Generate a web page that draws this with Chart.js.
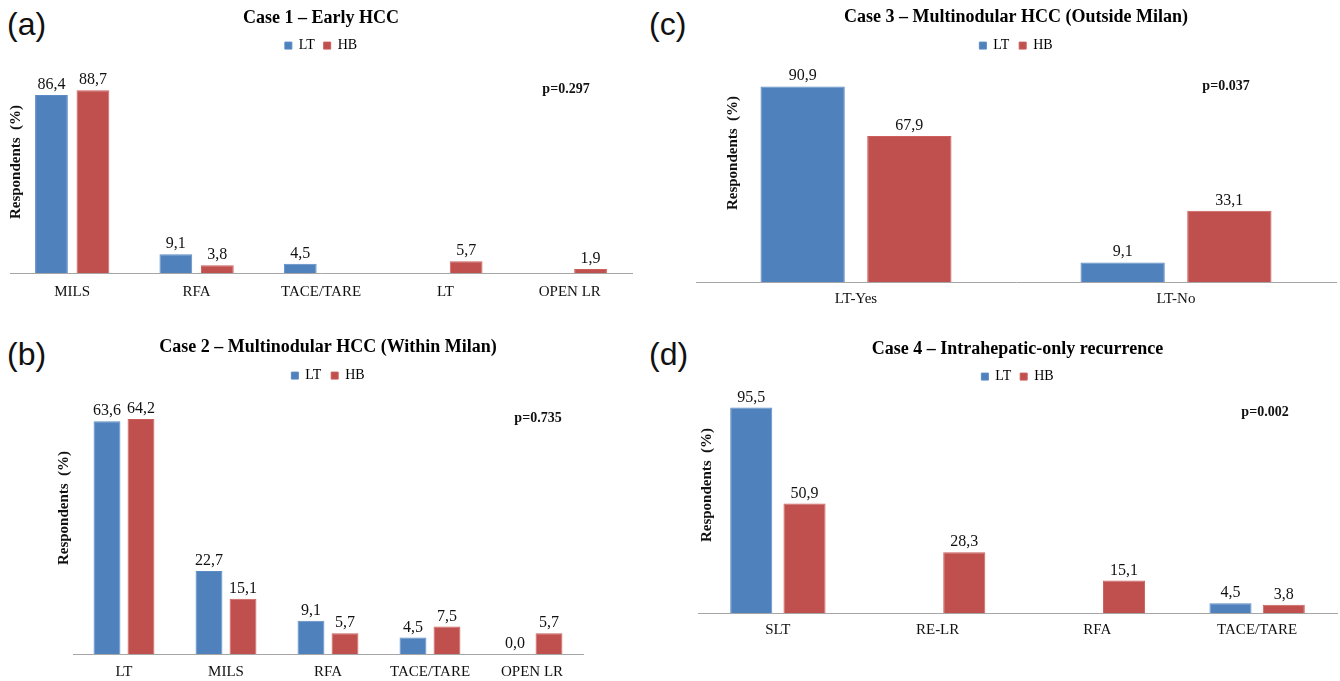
<!DOCTYPE html>
<html>
<head>
<meta charset="utf-8">
<script src="https://cdn.jsdelivr.net/npm/chart.js@4.4.1/dist/chart.umd.min.js"></script>
<style>
  body { margin: 0; background: #fff; width: 1340px; height: 681px; position: relative; overflow: hidden; }
  canvas { position: absolute; }
  .tag { position: absolute; font-family: "Liberation Sans", Arial, sans-serif; font-size: 32px; line-height: 32px; color: #111; }
</style>
</head>
<body>
<div class="tag" style="left:7px;top:8px">(a)</div>
<div class="tag" style="left:7px;top:338px">(b)</div>
<div class="tag" style="left:649px;top:8px">(c)</div>
<div class="tag" style="left:649px;top:338px">(d)</div>

<canvas id="chartA" width="670" height="330" style="left:0;top:0"></canvas>
<canvas id="chartB" width="670" height="360" style="left:0;top:330px"></canvas>
<canvas id="chartC" width="670" height="330" style="left:670px;top:0"></canvas>
<canvas id="chartD" width="670" height="351" style="left:670px;top:330px"></canvas>

<script>
// data
const seriesNames = ['LT', 'HB'];

const aTitle = 'Case 1 \u2013 Early HCC';
const aLabels = ['MILS', 'RFA', 'TACE/TARE', 'LT', 'OPEN LR'];
const aLT = [86.4, 9.1, 4.5, null, null];
const aHB = [88.7, 3.8, null, 5.7, 1.9];
const aP = 'p=0.297';

const bTitle = 'Case 2 \u2013 Multinodular HCC (Within Milan)';
const bLabels = ['LT', 'MILS', 'RFA', 'TACE/TARE', 'OPEN LR'];
const bLT = [63.6, 22.7, 9.1, 4.5, 0.0];
const bHB = [64.2, 15.1, 5.7, 7.5, 5.7];
const bP = 'p=0.735';

const cTitle = 'Case 3 \u2013 Multinodular HCC (Outside Milan)';
const cLabels = ['LT-Yes', 'LT-No'];
const cLT = [90.9, 9.1];
const cHB = [67.9, 33.1];
const cP = 'p=0.037';

const dTitle = 'Case 4 \u2013 Intrahepatic-only recurrence';
const dLabels = ['SLT', 'RE-LR', 'RFA', 'TACE/TARE'];
const dLT = [95.5, null, null, 4.5];
const dHB = [50.9, 28.3, 15.1, 3.8];
const dP = 'p=0.002';

const yTitle = 'Respondents  (%)';

Chart.defaults.font.family = "'Liberation Serif', 'Times New Roman', serif";
Chart.defaults.color = '#000';

// value above each bar, comma decimal
const valueLabels = {
  id: 'valueLabels',
  afterDatasetsDraw(chart) {
    const ctx = chart.ctx;
    ctx.save();
    ctx.font = "16px 'Liberation Serif'";
    ctx.fillStyle = '#111';
    ctx.textAlign = 'center';
    ctx.textBaseline = 'alphabetic';
    chart.data.datasets.forEach((ds, i) => {
      chart.getDatasetMeta(i).data.forEach((bar, j) => {
        const v = ds.data[j];
        if (v === null || v === undefined) return;
        ctx.fillText(v.toFixed(1).replace('.', ','), bar.x, bar.y - 6);
      });
    });
    ctx.restore();
  }
};

// y title and p value
const notes = {
  id: 'notes',
  afterDraw(chart, args, opts) {
    const ctx = chart.ctx;
    ctx.save();
    ctx.fillStyle = '#111';
    ctx.textAlign = 'center';
    ctx.textBaseline = 'middle';
    ctx.font = "bold 14px 'Liberation Serif'";
    ctx.fillText(opts.p, opts.pX, opts.pY);
    ctx.translate(opts.yX, opts.yY);
    ctx.rotate(-Math.PI / 2);
    ctx.font = "bold 15px 'Liberation Serif'";
    ctx.fillText(yTitle, 0, 0);
    ctx.restore();
  }
};

function makeChart(id, title, labels, lt, hb, p, lay) {
  return new Chart(document.getElementById(id), {
    type: 'bar',
    data: {
      labels: labels,
      datasets: [{
        label: seriesNames[0],
        data: lt,
        backgroundColor: '#4F81BD',
        borderColor: '#5b8cc6',
        borderWidth: 1,
        categoryPercentage: 0.667,
        barPercentage: 0.79
      }, {
        label: seriesNames[1],
        data: hb,
        backgroundColor: '#C0504D',
        borderColor: '#cc5f5c',
        borderWidth: 1,
        categoryPercentage: 0.667,
        barPercentage: 0.79
      }]
    },
    options: {
      responsive: false,
      animation: false,
      devicePixelRatio: 1,
      layout: { padding: lay.pad },
      plugins: {
        title: {
          display: true,
          text: title,
          font: { size: 18, weight: 'bold' },
          padding: { top: lay.titleTop, bottom: 0 }
        },
        legend: {
          display: true,
          position: 'top',
          labels: { boxWidth: 7, boxHeight: 7, font: { size: 14 }, padding: lay.legendPad }
        },
        tooltip: { enabled: false },
        notes: { p: p, pX: lay.pX, pY: lay.pY, yX: lay.yX, yY: lay.yY }
      },
      scales: {
        x: {
          grid: { display: false, drawTicks: false },
          border: { display: true, color: '#a6a6a6', width: 1 },
          ticks: { font: { size: 15 }, padding: lay.tickPad, color: '#111' }
        },
        y: { display: false, min: 0, max: lay.yMax }
      }
    },
    plugins: [valueLabels, notes]
  });
}

makeChart('chartA', aTitle, aLabels, aLT, aHB, aP, {
  pad: { left: 10, right: 38, top: 0, bottom: 19 },
  titleTop: 8, legendPad: 9, tickPad: 10, yMax: 102.1,
  pX: 566, pY: 89, yX: 16, yY: 162
});
makeChart('chartB', bTitle, bLabels, bLT, bHB, bP, {
  pad: { left: 73, right: 87, top: 0, bottom: 0 },
  titleTop: 7, legendPad: 10, tickPad: 9, yMax: 71.4,
  pX: 538, pY: 88, yX: 64, yY: 178
});
makeChart('chartC', cTitle, cLabels, cLT, cHB, cP, {
  pad: { left: 26, right: 4, top: 0, bottom: 14 },
  titleTop: 7, legendPad: 10, tickPad: 8, yMax: 102,
  pX: 556, pY: 86, yX: 63, yY: 153
});
makeChart('chartD', dTitle, dLabels, dLT, dHB, dP, {
  pad: { left: 28, right: 3, top: 0, bottom: 34 },
  titleTop: 9, legendPad: 9, tickPad: 8, yMax: 102,
  pX: 595, pY: 82, yX: 37, yY: 155
});
</script>
</body>
</html>
